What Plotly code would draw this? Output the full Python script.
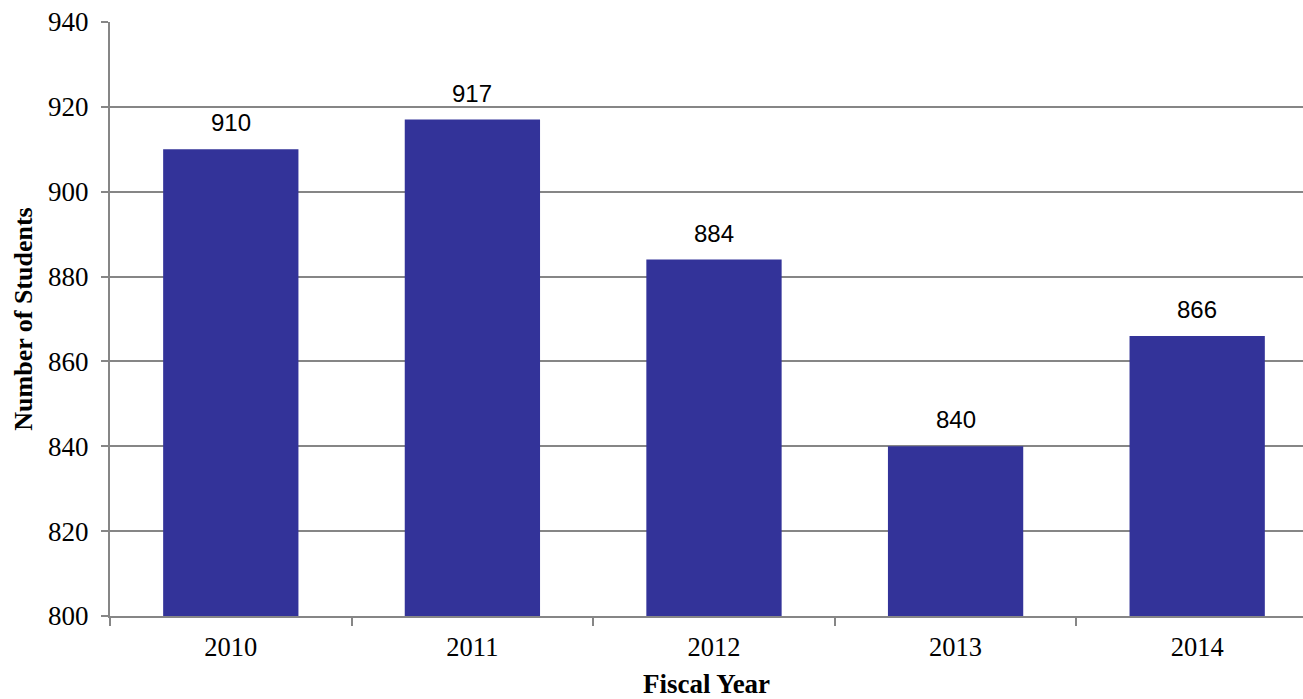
import plotly.graph_objects as go

years = ["2010", "2011", "2012", "2013", "2014"]
students = [910, 917, 884, 840, 866]
y_ticks = [800, 820, 840, 860, 880, 900, 920, 940]

BAR = "#333399"
GRID = "#868686"
SERIF = "Liberation Serif, Times New Roman, serif"
SANS = "Liberation Sans, Arial, sans-serif"

fig = go.Figure()
fig.add_trace(go.Bar(x=years, y=students, marker=dict(color=BAR, line=dict(width=0)),
                     width=0.56, showlegend=False))

for i, v in enumerate(students):
    fig.add_annotation(x=i, y=v, xref="x", yref="y", text=str(v), showarrow=False,
                       yanchor="bottom", yshift=11,
                       font=dict(family=SANS, size=24, color="#000000"))

fig.update_layout(
    width=1303, height=699,
    margin=dict(l=110, r=0, t=22, b=83),
    paper_bgcolor="white", plot_bgcolor="white",
    bargap=0.44,
    xaxis=dict(
        type="category", range=[-0.5, 4.438],
        tickson="boundaries", ticks="outside", ticklen=8, tickwidth=2, tickcolor=GRID,
        showline=True, linecolor=GRID, linewidth=2,
        showgrid=False,
        ticklabelstandoff=6,
        tickfont=dict(family=SERIF, size=26.5, color="#000000"),
        title=dict(text="<b>Fiscal Year</b>", font=dict(family=SERIF, size=27, color="#000000"), standoff=14),
    ),
    yaxis=dict(
        range=[800, 940], tickvals=y_ticks,
        ticks="outside", ticklen=7, tickwidth=2, tickcolor=GRID,
        showline=True, linecolor=GRID, linewidth=2,
        showgrid=True, gridcolor=GRID, gridwidth=2,
        zeroline=False,
        ticklabelstandoff=7,
        tickfont=dict(family=SERIF, size=27, color="#000000"),
        title=dict(text="<b>Number of Students</b>", font=dict(family=SERIF, size=26, color="#000000"), standoff=8),
    ),
)

fig.write_html("out.html")
